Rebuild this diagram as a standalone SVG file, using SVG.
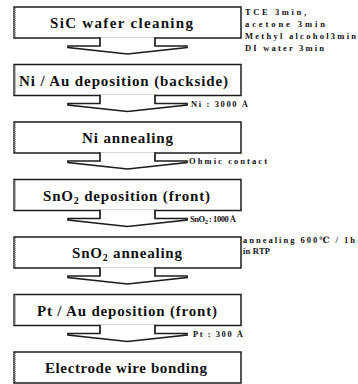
<svg xmlns="http://www.w3.org/2000/svg" width="358" height="384" viewBox="0 0 358 384">
<style>
.box{fill:#fff;stroke:#1c1c1c;stroke-width:1.5}
.edge{stroke:#777;stroke-width:2.6;stroke-dasharray:1.2 0.8}
.t{font-family:"Liberation Serif","Times New Roman",serif;font-weight:bold;font-size:15px;fill:#111}
.s{font-family:"Liberation Serif","Times New Roman","DejaVu Serif",serif;font-weight:bold;font-size:8.5px;fill:#111}
.arr{fill:#fff;stroke:#1c1c1c;stroke-width:1.7;stroke-linejoin:miter}
</style>
<rect width="358" height="384" fill="#fff"/>
<g id="n1">
<rect class="box" x="14" y="7" width="227" height="31"/>
<line class="edge" x1="14.5" y1="8" x2="14.5" y2="37"/>
<text class="t" x="50" y="28" textLength="143" lengthAdjust="spacing">SiC wafer cleaning</text>
</g>
<g id="n2">
<rect class="box" x="14" y="64.5" width="227" height="31"/>
<line class="edge" x1="14.5" y1="65.5" x2="14.5" y2="94.5"/>
<text class="t" x="19" y="85.5" textLength="209" lengthAdjust="spacing">Ni / Au deposition (backside)</text>
</g>
<g id="n3">
<rect class="box" x="14" y="122" width="227" height="31"/>
<line class="edge" x1="14.5" y1="123" x2="14.5" y2="152"/>
<text class="t" x="82" y="143" textLength="91" lengthAdjust="spacing">Ni annealing</text>
</g>
<g id="n4">
<rect class="box" x="14" y="179.5" width="227" height="31"/>
<line class="edge" x1="14.5" y1="180.5" x2="14.5" y2="209.5"/>
<text class="t" x="43" y="200.5" textLength="167" lengthAdjust="spacing">SnO<tspan dy="3" font-size="10">2</tspan><tspan dy="-3"> deposition (front)</tspan></text>
</g>
<g id="n5">
<rect class="box" x="14" y="237" width="227" height="31"/>
<line class="edge" x1="14.5" y1="238" x2="14.5" y2="267"/>
<text class="t" x="72" y="258" textLength="110" lengthAdjust="spacing">SnO<tspan dy="3" font-size="10">2</tspan><tspan dy="-3"> annealing</tspan></text>
</g>
<g id="n6">
<rect class="box" x="14" y="294.5" width="227" height="31"/>
<line class="edge" x1="14.5" y1="295.5" x2="14.5" y2="324.5"/>
<text class="t" x="37" y="315.5" textLength="180" lengthAdjust="spacing">Pt / Au deposition (front)</text>
</g>
<g id="n7">
<rect class="box" x="14" y="352" width="227" height="31"/>
<line class="edge" x1="14.5" y1="353" x2="14.5" y2="382"/>
<text class="t" x="45" y="373" textLength="162" lengthAdjust="spacing">Electrode wire bonding</text>
</g>
<g id="connectors">
<path class="arr" d="M100,37.2 V46 H68 V47.5 L127.5,54 L187,47.5 V46 H155 V37.2"/>
<path class="arr" d="M100,94.7 V103.5 H68 V105 L127.5,111.5 L187,105 V103.5 H155 V94.7"/>
<path class="arr" d="M100,152.2 V161 H68 V162.5 L127.5,169 L187,162.5 V161 H155 V152.2"/>
<path class="arr" d="M100,209.7 V218.5 H68 V220 L127.5,226.5 L187,220 V218.5 H155 V209.7"/>
<path class="arr" d="M100,267.2 V276 H68 V277.5 L127.5,284 L187,277.5 V276 H155 V267.2"/>
<path class="arr" d="M100,324.7 V333.5 H68 V335 L127.5,341.5 L187,335 V333.5 H155 V324.7"/>
</g>
<g id="labels">
<text class="s" x="245" y="15" textLength="61" lengthAdjust="spacing">TCE 3min,</text>
<text class="s" x="245" y="27" textLength="80" lengthAdjust="spacing">acetone 3min</text>
<text class="s" x="245" y="39" textLength="111" lengthAdjust="spacing">Methyl alcohol3min</text>
<text class="s" x="245" y="51" textLength="79" lengthAdjust="spacing">DI water 3min</text>
<text class="s" x="191" y="106.5" textLength="57" lengthAdjust="spacing">Ni : 3000 Å</text>
<text class="s" x="189" y="164" textLength="78" lengthAdjust="spacing">Ohmic contact</text>
<text class="s" x="190" y="222" textLength="46" lengthAdjust="spacing">SnO<tspan dy="2" font-size="6.5">2</tspan><tspan dy="-2"> : 1000 Å</tspan></text>
<text class="s" x="243" y="243" textLength="112" lengthAdjust="spacing">annealing 600℃ / 1h</text>
<text class="s" x="243" y="254" textLength="27" lengthAdjust="spacing">in RTP</text>
<text class="s" x="193" y="336.5" textLength="50" lengthAdjust="spacing">Pt : 300 Å</text>
</g>
</svg>
